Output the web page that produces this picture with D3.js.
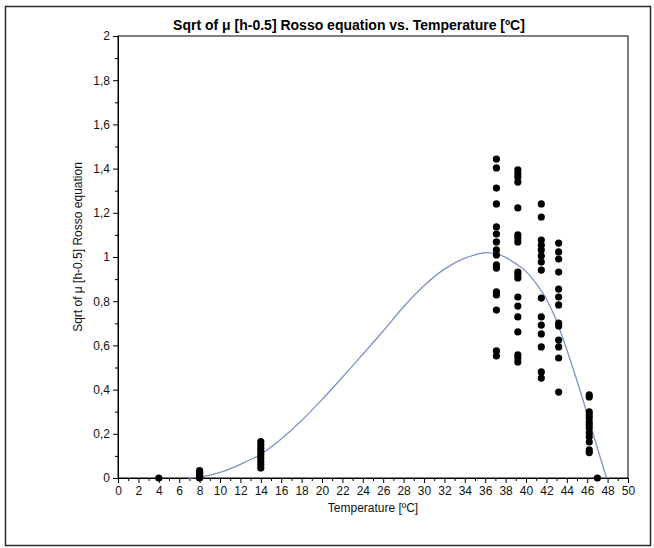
<!DOCTYPE html>
<html>
<head>
<meta charset="utf-8">
<script src="https://cdn.jsdelivr.net/npm/d3@7"></script>
<style>
    body { margin: 0; background: #fff; }
    svg { display: block; font-family: "Liberation Sans", Arial, sans-serif; }
</style>
</head>
<body>
<svg id="chart"></svg>
<script>
// observed temperatures (one column of dots per temperature)
const obsTemps = [4, 8, 14, 37.1, 39.2, 41.5, 43.2, 46.2, 47];
const obsValues = [
    [0],
    [0, 0.006, 0.012, 0.019, 0.026, 0.033],
    [0.045, 0.06, 0.075, 0.09, 0.105, 0.12, 0.135, 0.15, 0.165],
    [1.443, 1.403, 1.312, 1.24, 1.136, 1.104, 1.068, 1.032, 1.009, 0.964, 0.95, 0.842, 0.828, 0.76, 0.575, 0.552],
    [1.394, 1.376, 1.362, 1.339, 1.222, 1.1, 1.086, 1.068, 0.932, 0.919, 0.905, 0.819, 0.778, 0.729, 0.661, 0.557, 0.543, 0.525],
    [1.24, 1.181, 1.077, 1.054, 1.032, 1.005, 0.977, 0.941, 0.814, 0.729, 0.692, 0.652, 0.593, 0.48, 0.452],
    [1.063, 1.023, 0.991, 0.932, 0.855, 0.819, 0.783, 0.701, 0.688, 0.624, 0.593, 0.543, 0.389],
    [0.376, 0.367, 0.299, 0.285, 0.271, 0.253, 0.24, 0.226, 0.204, 0.186, 0.163, 0.127, 0.115],
    [0]
];

// fitted Rosso curve
const curveT = [6.9, 8, 10, 12, 14, 16, 18, 20, 22, 24, 26, 28, 30, 32, 34, 35, 36, 37, 38, 39, 40, 41, 42, 43, 44, 45, 46, 47, 47.9];
const curveY = [0, 0.004, 0.025, 0.062, 0.108, 0.177, 0.26, 0.355, 0.456, 0.56, 0.665, 0.775, 0.87, 0.945, 0.995, 1.01, 1.02, 1.016, 0.998, 0.97, 0.935, 0.88, 0.81, 0.71, 0.58, 0.44, 0.29, 0.135, 0];

const xMajor = d3.range(0, 51, 2);
const xMinor = d3.range(1, 50, 2);
const yMajor = d3.range(0, 11).map(i => i * 0.2);
const yMinor = d3.range(0, 10).map(i => i * 0.2 + 0.1);

const title = "Sqrt of \u03bc [h-0.5] Rosso equation vs. Temperature [\u00baC]";
const xTitle = "Temperature [\u00baC]";
const yTitle = "Sqrt of \u03bc [h-0.5] Rosso equation";

const width = 654, height = 548;
const margin = { top: 36, right: 26, bottom: 70, left: 118 };
const innerW = width - margin.left - margin.right;
const innerH = height - margin.top - margin.bottom;

const svg = d3.select("#chart").attr("width", width).attr("height", height);

// outer frame
svg.append("rect")
    .attr("x", 5.5).attr("y", 6.5)
    .attr("width", 645).attr("height", 539)
    .attr("fill", "none")
    .attr("stroke", "#2a2a2a")
    .attr("stroke-width", 1.5);

const g = svg.append("g").attr("transform", `translate(${margin.left}, ${margin.top})`);

const x = d3.scaleLinear().domain([0, 50]).range([0, innerW]);
const y = d3.scaleLinear().domain([0, 2]).range([innerH, 0]);

const fmt = d => d === 0 ? "0" : (Math.round(d * 10) / 10).toString().replace(".", ",");

// plot box
g.append("rect")
    .attr("width", innerW).attr("height", innerH)
    .attr("fill", "none").attr("stroke", "#000").attr("stroke-width", 1);

// axes
let xAx = g.append("g").attr("transform", `translate(0, ${innerH})`)
    .call(d3.axisBottom(x).tickValues(xMajor).tickSize(5).tickPadding(3).tickFormat(d3.format("d")));
g.append("g").attr("transform", `translate(0, ${innerH})`)
    .call(d3.axisBottom(x).tickValues(xMinor).tickSize(3).tickFormat(""))
    .select(".domain").remove();

let yAx = g.append("g")
    .call(d3.axisLeft(y).tickValues(yMajor).tickSize(5).tickPadding(3).tickFormat(fmt));
g.append("g")
    .call(d3.axisLeft(y).tickValues(yMinor).tickSize(3).tickFormat(""))
    .select(".domain").remove();

g.selectAll(".tick text")
    .attr("fill", "#111")
    .style("font-size", "12px")
    .style("font-family", "'Liberation Sans', Arial, sans-serif");
g.selectAll(".domain, .tick line").attr("stroke", "#000");

// curve
let line = d3.line()
    .x((d, i) => x(curveT[i]))
    .y(d => y(d))
    .curve(d3.curveMonotoneX);

g.append("path")
    .datum(curveY)
    .attr("fill", "none")
    .attr("stroke", "#7c92c9")
    .attr("stroke-width", 1.3)
    .attr("d", line);

// observed points
let points = [];
obsTemps.forEach((t, i) => {
    obsValues[i].forEach(v => points.push({ t: t, v: v }));
});

g.append("g").selectAll("circle")
    .data(points)
    .join("circle")
    .attr("cx", d => x(d.t))
    .attr("cy", d => y(d.v))
    .attr("r", 3.6)
    .attr("fill", "#000");

// titles
svg.append("text")
    .attr("x", 349).attr("y", 30)
    .attr("text-anchor", "middle")
    .style("font-size", "14px")
    .style("font-weight", "bold")
    .attr("fill", "#000")
    .text(title);

svg.append("text")
    .attr("x", margin.left + innerW / 2).attr("y", 512)
    .attr("text-anchor", "middle")
    .style("font-size", "12px")
    .attr("fill", "#111")
    .text(xTitle);

svg.append("text")
    .attr("transform", `translate(82, ${margin.top + innerH / 2 - 10}) rotate(-90)`)
    .attr("text-anchor", "middle")
    .style("font-size", "12px")
    .attr("fill", "#111")
    .text(yTitle);
</script>
</body>
</html>
